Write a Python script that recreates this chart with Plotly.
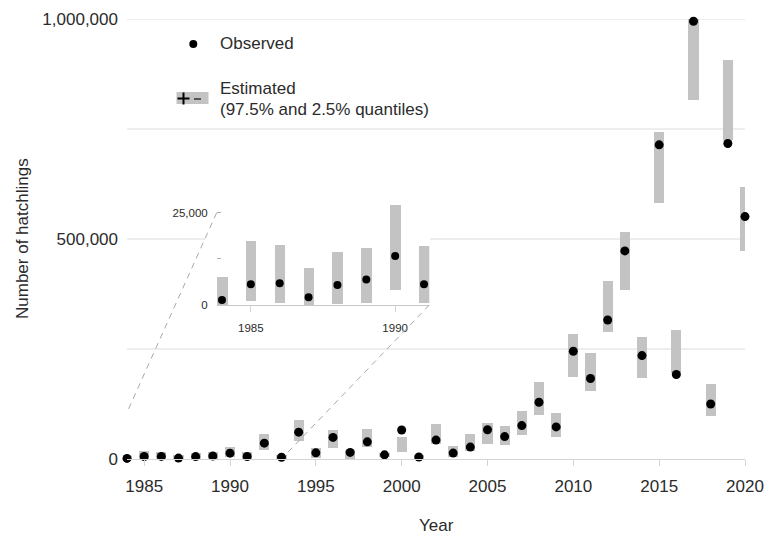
import plotly.graph_objects as go

years = list(range(1984, 2021))
observed = [1350, 5600, 5900, 2100, 5400, 6900, 13300, 5600,
            36000, 4000, 61000, 14000, 49000, 15000, 39000, 9500, 66000, 4500,
            43000, 13500, 27000, 66500, 51000, 76000, 129000, 73000,
            245000, 183000, 316000, 473000, 235000, 714000, 192000, 995000,
            125000, 717000, 551000]
est_low = [0, 1100, 700, 0, 400, 600, 4200, 800,
           20000, 1000, 40000, 3000, 26000, 1000, 27000, 4000, 16000, 1000,
           34000, 5000, 19000, 35000, 31000, 54000, 101000, 51000,
           187000, 155000, 288000, 384000, 183000, 582000, 195000, 817000,
           98000, 726000, 473000]
est_high = [7800, 17400, 16400, 10100, 14400, 15600, 27100, 16200,
            57000, 8000, 89000, 25000, 66000, 20000, 68000, 14000, 49000, 8000,
            80000, 28600, 56000, 82500, 76000, 109000, 175000, 105000,
            283000, 242000, 404000, 515000, 277000, 743000, 293000, 1004000,
            170000, 906000, 618000]
inset_years = years[:8]
main_ticks = [1985, 1990, 1995, 2000, 2005, 2010, 2015, 2020]
main_yticks = [0, 500000, 1000000]
main_yticklabels = ["0", "500,000", "1,000,000"]
grid_vals = [250000, 500000, 750000, 1000000]
inset_xticks = [1985, 1990]
inset_yticks = [0, 12500, 25000]
inset_yticklabels = ["0", "", "25,000"]

W, H = 764, 534
L, R, T, B = 127, 19, 19, 75
PW, PH = W - L - R, H - T - B


def px(x):
    return (x - L) / PW


def py(y):
    return (H - B - y) / PH


FONT = "Liberation Sans, Arial, sans-serif"
BAR = "#c3c3c3"
AXC = "#d4d4d4"
GRID = "#dcdcdc"
TXT = "#2b2b2b"
FS = 17
FS_IN = 11.5

fig = go.Figure()

# main
fig.add_trace(go.Bar(x=years, y=[h - l for h, l in zip(est_high, est_low)], base=est_low,
                     width=0.6, marker=dict(color=BAR, line=dict(width=0)),
                     xaxis="x", yaxis="y", cliponaxis=False, showlegend=False, hoverinfo="skip"))
fig.add_trace(go.Scatter(x=years, y=observed, mode="markers",
                         marker=dict(color="black", size=9),
                         xaxis="x", yaxis="y", cliponaxis=False, showlegend=False))

# inset
n = len(inset_years)
fig.add_trace(go.Bar(x=inset_years, y=[h - l for h, l in zip(est_high[:n], est_low[:n])],
                     base=est_low[:n], width=0.365,
                     marker=dict(color=BAR, line=dict(width=0)),
                     xaxis="x2", yaxis="y2", cliponaxis=False, showlegend=False, hoverinfo="skip"))
fig.add_trace(go.Scatter(x=inset_years, y=observed[:n], mode="markers",
                         marker=dict(color="black", size=8),
                         xaxis="x2", yaxis="y2", cliponaxis=False, showlegend=False))

shapes = []
# gridlines (500k interrupted by inset box)
gap0, gap1 = px(205), px(430)
for g in grid_vals:
    if g == 500000:
        segs = [(0, gap0), (gap1, 1)]
    else:
        segs = [(0, 1)]
    for a, b in segs:
        shapes.append(dict(type="line", xref="paper", yref="y", x0=a, x1=b, y0=g, y1=g,
                           line=dict(color=GRID, width=1), layer="below"))
# dashed connector lines
shapes.append(dict(type="line", xref="paper", yref="paper", x0=px(216.7), y0=py(212.7),
                   x1=px(127.3), y1=py(411.7), line=dict(color="#a8a8a8", width=1, dash="6px,5px")))
shapes.append(dict(type="line", xref="paper", yref="paper", x0=px(429.3), y0=py(305),
                   x1=px(286.7), y1=py(453.5), line=dict(color="#a8a8a8", width=1, dash="6px,5px")))
# legend: observed dot
shapes.append(dict(type="circle", xref="paper", yref="paper", x0=px(189.3), x1=px(197.3),
                   y0=py(40), y1=py(48), fillcolor="black", line=dict(width=0)))
# legend: estimated icon
shapes.append(dict(type="rect", xref="paper", yref="paper", x0=px(176.5), x1=px(208.5),
                   y0=py(92), y1=py(104), fillcolor=BAR, line=dict(width=0)))
shapes.append(dict(type="line", xref="paper", yref="paper", x0=px(177.5), x1=px(189.5),
                   y0=py(98.5), y1=py(98.5), line=dict(color="black", width=2)))
shapes.append(dict(type="line", xref="paper", yref="paper", x0=px(183.5), x1=px(183.5),
                   y0=py(92.5), y1=py(104.5), line=dict(color="black", width=2)))
shapes.append(dict(type="line", xref="paper", yref="paper", x0=px(194), x1=px(201),
                   y0=py(99), y1=py(99), line=dict(color="#555555", width=2)))

annotations = [
    dict(text="Observed", xref="paper", yref="paper", x=px(218), y=py(44), xanchor="left",
         yanchor="middle", showarrow=False, font=dict(family=FONT, size=FS, color=TXT)),
    dict(text="Estimated", xref="paper", yref="paper", x=px(218), y=py(88), xanchor="left",
         yanchor="middle", showarrow=False, font=dict(family=FONT, size=FS, color=TXT)),
    dict(text="(97.5% and 2.5% quantiles)", xref="paper", yref="paper", x=px(218), y=py(110),
         xanchor="left", yanchor="middle", showarrow=False,
         font=dict(family=FONT, size=FS, color=TXT)),
    dict(text="Number of hatchlings", xref="paper", yref="paper", x=px(22), y=py(239),
         xanchor="center", yanchor="middle", textangle=-90, showarrow=False,
         font=dict(family=FONT, size=FS, color=TXT)),
    dict(text="Year", xref="paper", yref="paper", x=0.5, y=py(525), xanchor="center",
         yanchor="middle", showarrow=False, font=dict(family=FONT, size=FS, color=TXT)),
]

fig.update_layout(
    width=W, height=H, margin=dict(l=L, r=R, t=T, b=B, pad=0, autoexpand=False),
    paper_bgcolor="white", plot_bgcolor="rgba(0,0,0,0)",
    showlegend=False, bargap=0, barmode="overlay",
    shapes=shapes, annotations=annotations,
    xaxis=dict(domain=[0, 1], range=[1984, 2020], tickvals=main_ticks, ticks="outside",
               ticklen=6, tickcolor=AXC, showline=True, linecolor=AXC, linewidth=1,
               showgrid=False, zeroline=False, ticklabelstandoff=6, automargin=False,
               tickfont=dict(family=FONT, size=FS, color=TXT)),
    yaxis=dict(domain=[0, 1], range=[0, 1000000], tickvals=main_yticks,
               ticktext=main_yticklabels, ticks="", showline=False, showgrid=False,
               zeroline=False, ticklabelstandoff=8, automargin=False,
               tickfont=dict(family=FONT, size=FS, color=TXT)),
    xaxis2=dict(domain=[px(216.7), px(429.3)], range=[1983.8175, 1991.1825], anchor="y2",
                tickvals=inset_xticks, ticks="outside", ticklen=6, tickcolor=AXC,
                showline=True, linecolor="#c8c8c8", linewidth=1, showgrid=False,
                zeroline=False, ticklabelstandoff=6, automargin=False,
                tickfont=dict(family=FONT, size=FS_IN, color=TXT)),
    yaxis2=dict(domain=[py(305), py(203.5)], range=[0, 27500], anchor="x2",
                tickvals=inset_yticks, ticktext=inset_yticklabels, ticks="inside",
                ticklen=4, tickcolor="#b0b0b0", showline=False, showgrid=False,
                zeroline=False, ticklabelstandoff=8, automargin=False,
                tickfont=dict(family=FONT, size=FS_IN, color=TXT)),
)

fig.write_html("out.html", config={"displayModeBar": False},
               post_script="document.body.style.margin='0';document.body.style.padding='0';")
